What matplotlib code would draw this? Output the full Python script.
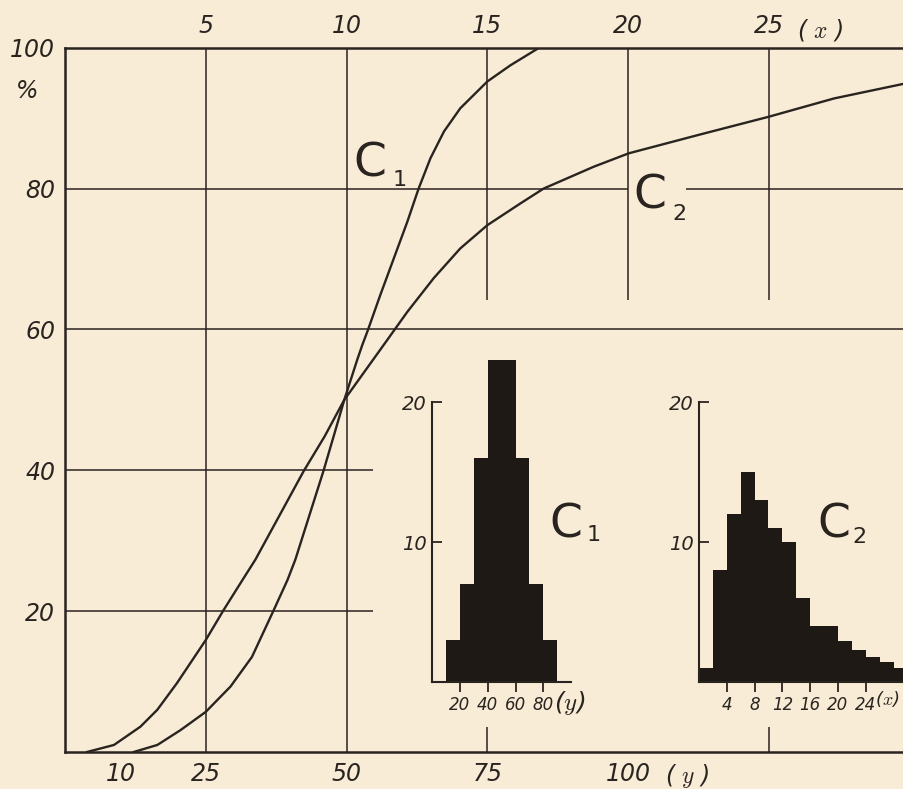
import matplotlib
matplotlib.use("Agg")
import matplotlib.pyplot as plt

plt.rcParams['font.family'] = ['DejaVu Sans']
plt.rcParams['mathtext.fontset'] = 'cm'

bg = '#f8ecd6'
ink = '#2a2420'

# cumulative curves (bottom scale y, percent)
c1_y = [12.2, 16.4, 20.5, 25.0, 29.4, 33.2, 37.1, 39.5, 40.9, 45.9, 47.7, 49.6,
        51.9, 52.8, 53.7, 56.0, 58.4, 60.8, 62.8, 64.9, 67.3, 70.2, 75.0, 79.1,
        83.6, 84.2]
c1_pct = [0, 1.0, 3.1, 5.7, 9.3, 13.5, 20.2, 24.4, 27.3, 39.9, 44.8, 50.0,
          55.7, 57.8, 59.7, 64.9, 70.1, 75.3, 80.0, 84.3, 88.1, 91.4, 95.2, 97.5,
          99.7, 100]

c2_y = [3.9, 8.7, 13.4, 16.4, 19.9, 25.0, 28.2, 31.5, 33.8, 42.4, 46.1, 49.6,
        56.6, 60.8, 65.5, 70.2, 75.0, 80.9, 85.0, 93.9, 100.1, 112.9, 125.0,
        136.6, 149.1]
c2_pct = [0, 1.0, 3.6, 6.0, 9.8, 15.9, 20.2, 24.4, 27.3, 39.9, 44.8, 50.0,
          57.8, 62.5, 67.3, 71.5, 74.8, 77.9, 80.0, 83.1, 85.0, 87.7, 90.2,
          92.8, 94.9]

# histograms
h1_edges = [10, 20, 30, 40, 50, 60, 70, 80, 90]
h1_vals = [3, 7, 16, 23, 23, 16, 7, 3]
h2_edges = [0, 2, 4, 6, 8, 10, 12, 14, 16, 18, 20, 22, 24, 26, 28, 30]
h2_vals = [1, 8, 12, 15, 13, 11, 10, 6, 4, 4, 2.9, 2.3, 1.8, 1.4, 1.0]

bottom_ticks = [10, 25, 50, 75, 100]
top_ticks = [5, 10, 15, 20, 25]
left_ticks = [20, 40, 60, 80, 100]

fig = plt.figure(figsize=(9.04, 7.89), dpi=100, facecolor=bg)
ax = fig.add_axes([65 / 904, 37 / 789, 839 / 904, 704.3 / 789])
ax.set_facecolor(bg)
ax.set_xlim(0, 149)
ax.set_ylim(0, 100)

for s in ['left', 'bottom', 'top']:
    ax.spines[s].set_linewidth(1.8)
    ax.spines[s].set_color(ink)
ax.spines['right'].set_visible(False)

# grid, drawn by hand since it is partial
glw = 1.1
ax.vlines([25, 50], 0, 100, color=ink, lw=glw)
ax.vlines([75, 100, 125], 64.2, 100, color=ink, lw=glw)
ax.vlines([75, 125], 0, 3.6, color=ink, lw=glw)
ax.hlines(60, 0, 149, color=ink, lw=glw)
ax.hlines(80, 0, 100, color=ink, lw=glw)
ax.hlines(80, 110.2, 149, color=ink, lw=glw)
ax.hlines([20, 40], 0, 54.7, color=ink, lw=glw)

ax.plot(c1_y, c1_pct, color=ink, lw=1.7, solid_joinstyle='round')
ax.plot(c2_y, c2_pct, color=ink, lw=1.7, solid_joinstyle='round')

lab = dict(fontsize=17, style='italic', color=ink)
ax.set_xticks(bottom_ticks)
ax.set_xticklabels([str(t) for t in bottom_ticks], **lab)
ax.set_yticks(left_ticks)
ax.set_yticklabels([str(t) for t in left_ticks], **lab)
ax.tick_params(axis='both', length=0, pad=7)

sec = ax.secondary_xaxis('top', functions=(lambda v: v / 5, lambda v: v * 5))
sec.set_xticks(top_ticks)
sec.set_xticklabels([str(t) for t in top_ticks], **lab)
sec.tick_params(length=0, pad=7)
sec.spines['top'].set_visible(False)

ax.text(-6.7, 93.9, '%', ha='center', va='center', clip_on=False, **lab)
ax.text(106.5, -1.4, '( $y$ )', ha='left', va='top', clip_on=False, **lab)
ax.text(130.0, 102.5, '( $x$ )', ha='left', va='center', clip_on=False, **lab)

big = dict(fontsize=34, color=ink)
sub = dict(fontsize=16, color=ink)
ax.text(51.3, 81.7, 'C', ha='left', va='baseline', **big)
ax.text(58.2, 80.3, '1', ha='left', va='baseline', **sub)
ax.text(101.0, 77.2, 'C', ha='left', va='baseline', **big)
ax.text(107.9, 75.6, '2', ha='left', va='baseline', **sub)
ax.text(86.0, 30.4, 'C', ha='left', va='baseline', **big)
ax.text(92.6, 29.9, '1', ha='left', va='baseline', **sub)
ax.text(133.7, 30.4, 'C', ha='left', va='baseline', **big)
ax.text(139.8, 29.7, '2', ha='left', va='baseline', **sub)


def inset(rect, xmax, edges, vals, xt, unit, unit_x, unit_size):
    a = fig.add_axes(rect)
    a.patch.set_visible(False)
    a.set_xlim(0, xmax)
    a.set_ylim(0, 24)
    a.stairs(vals, edges, fill=True, color='#1f1916')
    for s in ['top', 'right']:
        a.spines[s].set_visible(False)
    a.spines['left'].set_bounds(0, 20)
    a.spines['bottom'].set_bounds(0, xmax)
    for s in ['left', 'bottom']:
        a.spines[s].set_linewidth(1.5)
        a.spines[s].set_color(ink)
    a.set_yticks([10, 20])
    a.set_yticklabels(['10', '20'], fontsize=14, style='italic', color=ink)
    a.set_xticks(xt)
    a.set_xticklabels([str(t) for t in xt], fontsize=12, style='italic', color=ink)
    a.tick_params(axis='y', direction='in', length=7, width=1.3, pad=4, colors=ink)
    a.tick_params(axis='x', direction='out', length=7, width=1.3, pad=3, colors=ink)
    a.text(unit_x, -0.5, unit, ha='left', va='top', fontsize=unit_size,
           style='italic', color=ink, clip_on=False)
    return a


inset([432.2 / 904, 107 / 789, 138.9 / 904, 336 / 789], 100, h1_edges, h1_vals,
      [20, 40, 60, 80], '($y$)', 88, 18)
inset([699 / 904, 107 / 789, 205 / 904, 336 / 789], 29.5, h2_edges, h2_vals,
      [4, 8, 12, 16, 20, 24], '($x$)', 25.3, 13)

fig.savefig('out.png', dpi=100, facecolor=bg)
